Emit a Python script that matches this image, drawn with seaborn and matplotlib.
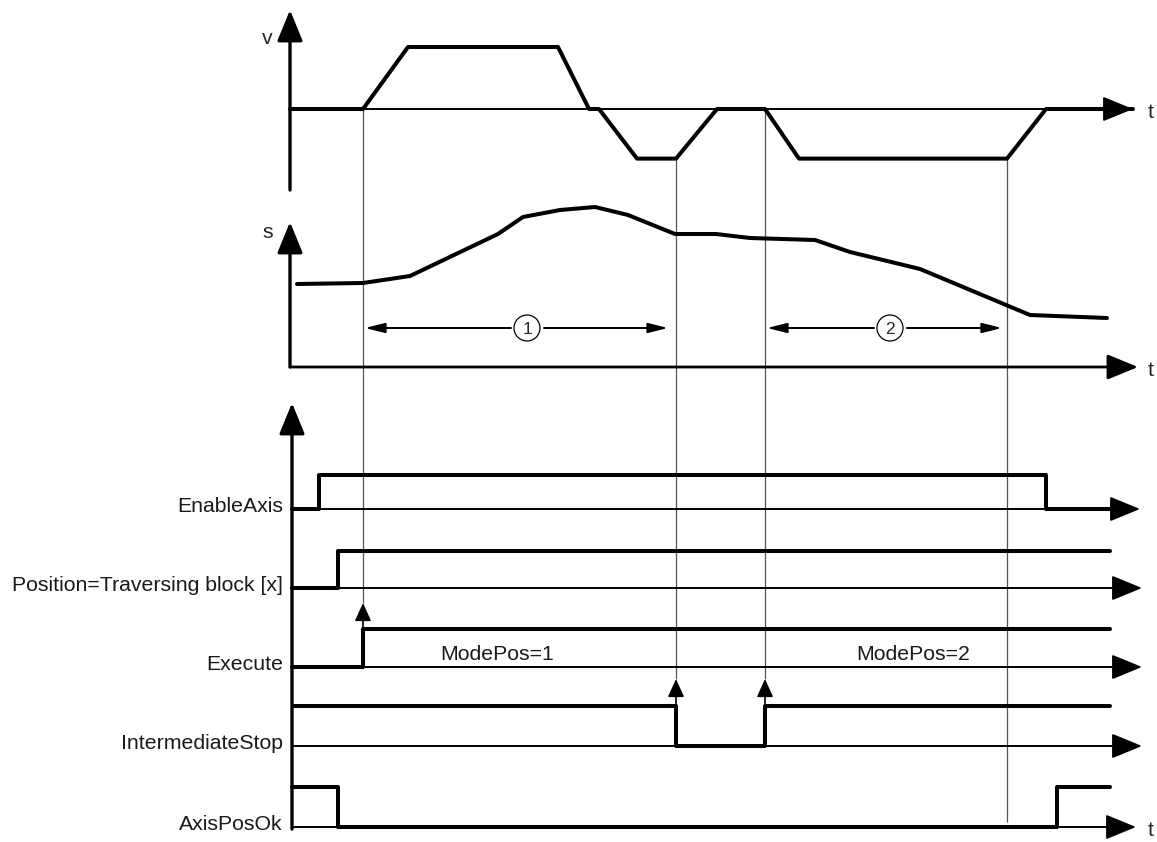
import matplotlib
matplotlib.use("Agg")
import pandas as pd
import matplotlib.pyplot as plt
import seaborn as sns

# --- data (time in drawing units along the t axis) ---
v_time = [290, 363, 408, 558, 589, 599, 637, 676, 717, 765, 799, 1007, 1046, 1133]
v_value = [0, 0, 1.0, 1.0, 0, 0, -0.8, -0.8, 0, 0, -0.8, -0.8, 0, 0]

s_time = [297, 363, 410, 498, 523, 560, 595, 628, 675, 716, 750, 815, 850, 920, 1030, 1107]
s_value = [83, 84, 91, 133, 150, 157, 160, 152, 133, 133, 129, 127, 115, 98, 52, 49]

signal_names = ["EnableAxis", "Position=Traversing block [x]", "Execute",
                "IntermediateStop", "AxisPosOk"]
signal_times = [
    [292, 319, 1046, 1110],
    [292, 338, 1110],
    [292, 363, 1110],
    [294, 676, 765, 1110],
    [292, 338, 1057, 1110],
]
signal_states = [
    [0, 1, 0, 0],
    [0, 1, 1],
    [0, 1, 1],
    [1, 0, 1, 1],
    [1, 0, 1, 1],
]

# event markers (vertical guides) and the two traversing intervals
guide_times = [363, 676, 765, 1007]
interval_labels = ["1", "2"]
interval_start = [365, 767]
interval_mid = [527, 890]
interval_end = [668, 1002]
mode_labels = ["ModePos=1", "ModePos=2"]
mode_times = [497, 913]

# --- layout ---
V_BASE, V_SCALE = 109, 62
S_BASE = 367
LANE_BASE = [509, 588, 667, 746, 827]
LANE_HIGH = [34, 37, 38, 40, 40]
AXIS_X = 290
FS = 15.3

sns.set_style("white")
plt.rcParams["font.family"] = ["Liberation Sans", "DejaVu Sans"]

fig = plt.figure(figsize=(11.57, 8.42), dpi=100)
ax = fig.add_axes([0, 0, 1, 1])

BIG = "-|>,head_length=1.9,head_width=0.78"
SMALL = "-|>,head_length=1.1,head_width=0.5"
DIM = "-|>,head_length=1.2,head_width=0.3"


def arrow(tail, tip, style, lw):
    ax.annotate("", xy=tip, xytext=tail,
                arrowprops=dict(arrowstyle=style, lw=lw, color="black",
                                shrinkA=0, shrinkB=0, mutation_scale=10))


# guide lines
guide_top = [V_BASE, V_BASE - V_SCALE * -0.8, V_BASE, V_BASE - V_SCALE * -0.8]
guide_bot = [603, 679, 679, 822]
ax.vlines(guide_times, guide_top, guide_bot, color="#555555", lw=0.9, zorder=1)

# v diagram
arrow((AXIS_X, 190), (AXIS_X, 10), BIG, 2.4)
arrow((AXIS_X, V_BASE), (1133, V_BASE), BIG, 1.4)
v_df = pd.DataFrame({"t": v_time, "y": [V_BASE - V_SCALE * v for v in v_value]})
sns.lineplot(data=v_df, x="t", y="y", ax=ax, color="black", lw=2.9,
             estimator=None, sort=False, zorder=3)
ax.text(267, 38, "v", fontsize=FS, ha="center", va="center")
ax.text(1148, V_BASE + 3, "t", fontsize=FS, ha="left", va="center")

# s diagram
arrow((AXIS_X, S_BASE), (AXIS_X, 222), BIG, 2.4)
arrow((AXIS_X, S_BASE), (1138, S_BASE), BIG, 2.0)
s_df = pd.DataFrame({"t": s_time, "y": [S_BASE - s for s in s_value]})
sns.lineplot(data=s_df, x="t", y="y", ax=ax, color="black", lw=2.9,
             estimator=None, sort=False, zorder=3)
ax.text(268, 233, "s", fontsize=FS, ha="center", va="center")
ax.text(1148, S_BASE + 3, "t", fontsize=FS, ha="left", va="center")

# traversing intervals
DIM_Y = 328
for lab, t0, mid, t1 in zip(interval_labels, interval_start, interval_mid, interval_end):
    arrow((mid - 16, DIM_Y), (t0, DIM_Y), DIM, 1.4)
    arrow((mid + 17, DIM_Y), (t1, DIM_Y), DIM, 1.4)
    ax.add_patch(plt.Circle((mid, DIM_Y), 13, fill=False, lw=0.9, color="black"))
    ax.text(mid, DIM_Y + 1, lab, fontsize=12.5, ha="center", va="center")

# signal diagram
arrow((AXIS_X + 2, 829), (AXIS_X + 2, 403), BIG, 2.4)
tips = [1140, 1142, 1142, 1142, 1136]
for name, times, states, base, h, tip in zip(signal_names, signal_times, signal_states,
                                             LANE_BASE, LANE_HIGH, tips):
    arrow((AXIS_X + 2, base), (tip, base), BIG, 1.4)
    df = pd.DataFrame({"t": times, "y": [base - h * s for s in states]})
    sns.lineplot(data=df, x="t", y="y", ax=ax, color="black", lw=2.9,
                 estimator=None, sort=False, drawstyle="steps-post", zorder=3)
    ax.text(283, base + 3, name, fontsize=FS, ha="right", va="baseline",
            color="#1a1a1a")
ax.text(1148, LANE_BASE[4] + 3, "t", fontsize=FS, ha="left", va="center")

for lab, t in zip(mode_labels, mode_times):
    ax.text(t, 660, lab, fontsize=FS, ha="center", va="baseline", color="#1a1a1a")

# edge triggers
arrow((363, LANE_BASE[2] - LANE_HIGH[2]), (363, 603), SMALL, 1.2)
arrow((676, LANE_BASE[3] - LANE_HIGH[3]), (676, 679), SMALL, 1.2)
arrow((765, LANE_BASE[3] - LANE_HIGH[3]), (765, 679), SMALL, 1.2)

ax.set_xlim(0, 1157)
ax.set_ylim(842, 0)
ax.axis("off")
fig.savefig("out.png", dpi=100)
